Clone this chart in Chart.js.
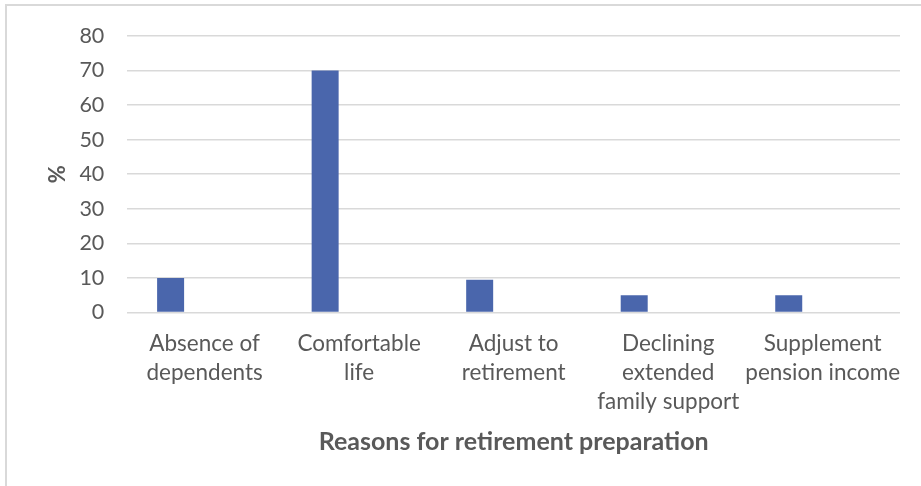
<!DOCTYPE html>
<html>
<head>
<meta charset="utf-8">
<script src="https://cdn.jsdelivr.net/npm/chart.js@4.4.1/dist/chart.umd.min.js"></script>
<style>
  body { margin: 0; background: #fff; }
  #frame {
    position: absolute; left: 5px; top: 4px; width: 916px; height: 482px;
    border-top: 2px solid #d9d9d9; border-left: 2px solid #d9d9d9;
  }
  #chart { position: absolute; left: 0; top: 0; }
</style>
</head>
<body>
<div id="frame"></div>
<canvas id="chart" width="921" height="486"></canvas>
<script>
// reasons on the x axis (multi-line labels as in the original)
const reasons = [
  ["Absence of", "dependents"],
  ["Comfortable", "life"],
  ["Adjust to", "retirement"],
  ["Declining", "extended", "family support"],
  ["Supplement", "pension income"],
];

// share of respondents, %
const shares = [10, 70, 9.5, 5, 5];

// the source chart kept a second, empty series beside the bars
const emptySeries = [null, null, null, null, null];

const yTicks = [0, 10, 20, 30, 40, 50, 60, 70, 80];

const textGrey = "#595959";
const gridGrey = "#d9d9d9";

new Chart(document.getElementById("chart"), {
  type: "bar",
  data: {
    labels: reasons,
    datasets: [
      {
        label: "%",
        data: shares,
        backgroundColor: "#4a66ac",
        categoryPercentage: 0.88,
        barPercentage: 0.397,
      },
      {
        label: "",
        data: emptySeries,
        backgroundColor: "#4a66ac",
        categoryPercentage: 0.88,
        barPercentage: 0.397,
      },
    ],
  },
  options: {
    responsive: false,
    animation: false,
    devicePixelRatio: 1,
    layout: { padding: { left: 20, right: 21, top: 18.3, bottom: 29.2 } },
    plugins: {
      legend: { display: false },
      tooltip: { enabled: false },
    },
    scales: {
      x: {
        grid: { display: false },
        border: { display: false },
        ticks: {
          color: textGrey,
          font: { family: "Lato", size: 22.5, lineHeight: 1.29 },
          maxRotation: 0,
          autoSkip: false,
          padding: 9,
        },
        title: {
          display: true,
          text: "Reasons for retirement preparation",
          color: textGrey,
          font: { family: "Lato", size: 25, weight: "bold" },
          padding: { top: 1.2, bottom: 0 },
        },
      },
      y: {
        min: 0,
        max: 80,
        afterBuildTicks: (axis) => {
          axis.ticks = yTicks.map((v) => ({ value: v }));
        },
        grid: { color: gridGrey, lineWidth: 1.5, drawTicks: false },
        border: { display: false },
        ticks: {
          color: textGrey,
          font: { family: "Lato", size: 21.5 },
          padding: 23,
        },
        title: {
          display: true,
          text: "%",
          color: textGrey,
          font: { family: "Lato", size: 22, weight: "bold" },
          padding: { top: 25, bottom: -15 },
        },
      },
    },
  },
});
</script>
</body>
</html>
